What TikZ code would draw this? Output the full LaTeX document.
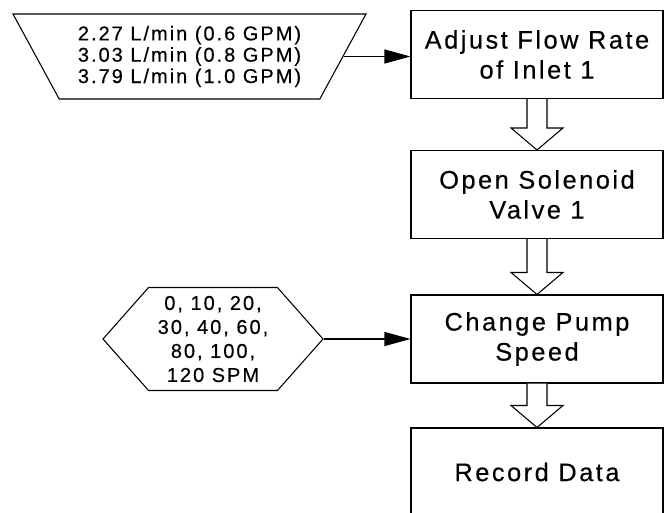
\documentclass[tikz,border=0pt]{standalone}
\usepackage{fontspec}
\setmainfont{Liberation Sans}[LetterSpace=10,FakeBold=0.4]
\usetikzlibrary{shapes.geometric,shapes.symbols,arrows.meta,calc}

\tikzset{
	stepbox/.style={draw,rectangle,minimum width=189pt,minimum height=66pt,align=center,font=\fontsize{19}{22.5}\selectfont},
	inputtext/.style={draw,align=center,font=\fontsize{15}{16}\selectfont},
	feed/.style={-{Triangle[length=19.5pt,width=10.5pt]}}
}
\newcommand{\blockarrow}[2]{%
	\draw[fill=white] ($(#1.south)+(-10,0)$) -- ($(#2.north)+(-10,-22)$) -- ($(#2.north)+(-26,-22)$)
		-- (#2.north) -- ($(#2.north)+(26,-22)$) -- ($(#2.north)+(10,-22)$) -- ($(#1.south)+(10,0)$);}

\begin{document}
\begin{tikzpicture}
		[x=0.75pt,y=-0.75pt,line width=0.8pt]
		\fill[white] (0,0) rectangle (664,512);
		\useasboundingbox (0,0) rectangle (664,512);

		\node[stepbox] (adjust) at (537,54.5) {Adjust Flow Rate\\of Inlet 1};
		\node[stepbox] (solenoid) at (537,194.5) {Open Solenoid\\Valve 1};
		\node[stepbox] (pump) at (537,339) {Change Pump\\Speed};
		\node[stepbox] (record) at (537,472) {Record Data};

		\node[inputtext,trapezium,shape border rotate=180,trapezium angle=53,trapezium stretches body,
			minimum width=264.75pt,minimum height=63.75pt,inner sep=0pt] (rates) at (189.5,56.5)
			{2.27 L/min (0.6 GPM)\\3.03 L/min (0.8 GPM)\\3.79 L/min (1.0 GPM)};
		\node[inputtext,signal,signal to=west and east,signal pointer angle=97,
			minimum width=165pt,minimum height=77.25pt,inner sep=0pt,font=\fontsize{15}{18}\selectfont] (speeds) at (213,339)
			{0, 10, 20,\\30, 40, 60,\\80, 100,\\120 SPM};

		\draw[feed] (rates.east) -- (rates.east -| adjust.west);
		\draw[feed] (speeds.east) -- (pump.west);

		\blockarrow{adjust}{solenoid}
		\blockarrow{solenoid}{pump}
		\blockarrow{pump}{record}

	\end{tikzpicture}
\end{document}
